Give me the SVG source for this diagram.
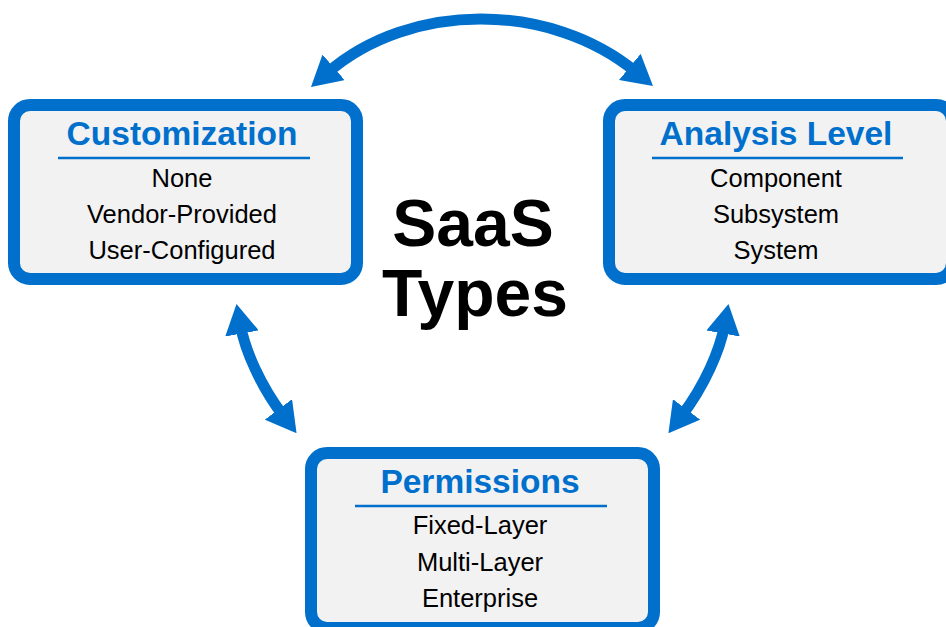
<svg xmlns="http://www.w3.org/2000/svg" width="946" height="627" viewBox="0 0 946 627">
  <style>
    .box { fill: #F2F2F2; stroke: #0070CC; stroke-width: 12; }
    .title { font-family: "Liberation Sans", Arial, sans-serif; font-weight: bold; font-size: 33.5px; fill: #0070CC; text-anchor: middle; }
    .rule { stroke: #0070CC; stroke-width: 2.5; }
    .item { font-family: "Liberation Sans", Arial, sans-serif; font-size: 25.5px; fill: #000; text-anchor: middle; }
    .big { font-family: "Liberation Sans", Arial, sans-serif; font-weight: bold; font-size: 66px; fill: #000; text-anchor: middle; }
    .conn { fill: none; stroke: #0070CC; stroke-width: 11; marker-start: url(#head); marker-end: url(#head); }
  </style>
  <defs>
    <marker id="head" markerUnits="userSpaceOnUse" markerWidth="30" markerHeight="34" refX="8" refY="17" orient="auto-start-reverse" viewBox="0 0 30 34">
      <path d="M0,0 L30,17 L0,34 z" fill="#0070CC"/>
    </marker>
  </defs>
  <rect width="946" height="627" fill="#fff"/>

  <g id="connectors">
    <path class="conn" d="M327.6,72.6 C410,1.2 550,1.2 636,72"/>
    <path class="conn" d="M240.5,325.6 C245,350 260,385 283.3,415.8"/>
    <path class="conn" d="M724.5,325.6 C720,350 705,385 681.7,415.8"/>
  </g>

  <g id="customization">
    <rect class="box" x="14" y="105" width="343" height="174" rx="16"/>
    <text class="title" x="182" y="145">Customization</text>
    <line class="rule" x1="58" y1="158" x2="310" y2="158"/>
    <text class="item" x="182" y="187">None</text>
    <text class="item" x="182" y="223">Vendor-Provided</text>
    <text class="item" x="182" y="259">User-Configured</text>
  </g>

  <g id="analysis-level">
    <rect class="box" x="609" y="105" width="343" height="174" rx="16"/>
    <text class="title" x="776" y="145">Analysis Level</text>
    <line class="rule" x1="652" y1="158" x2="903" y2="158"/>
    <text class="item" x="776" y="187">Component</text>
    <text class="item" x="776" y="223">Subsystem</text>
    <text class="item" x="776" y="259">System</text>
  </g>

  <g id="permissions">
    <rect class="box" x="311" y="453" width="343" height="175" rx="16"/>
    <text class="title" x="480" y="493">Permissions</text>
    <line class="rule" x1="355" y1="506" x2="607" y2="506"/>
    <text class="item" x="480" y="534">Fixed-Layer</text>
    <text class="item" x="480" y="571">Multi-Layer</text>
    <text class="item" x="480" y="607">Enterprise</text>
  </g>

  <g id="center-title">
    <text class="big" x="473" y="246">SaaS</text>
    <text class="big" x="475" y="316">Types</text>
  </g>
</svg>
